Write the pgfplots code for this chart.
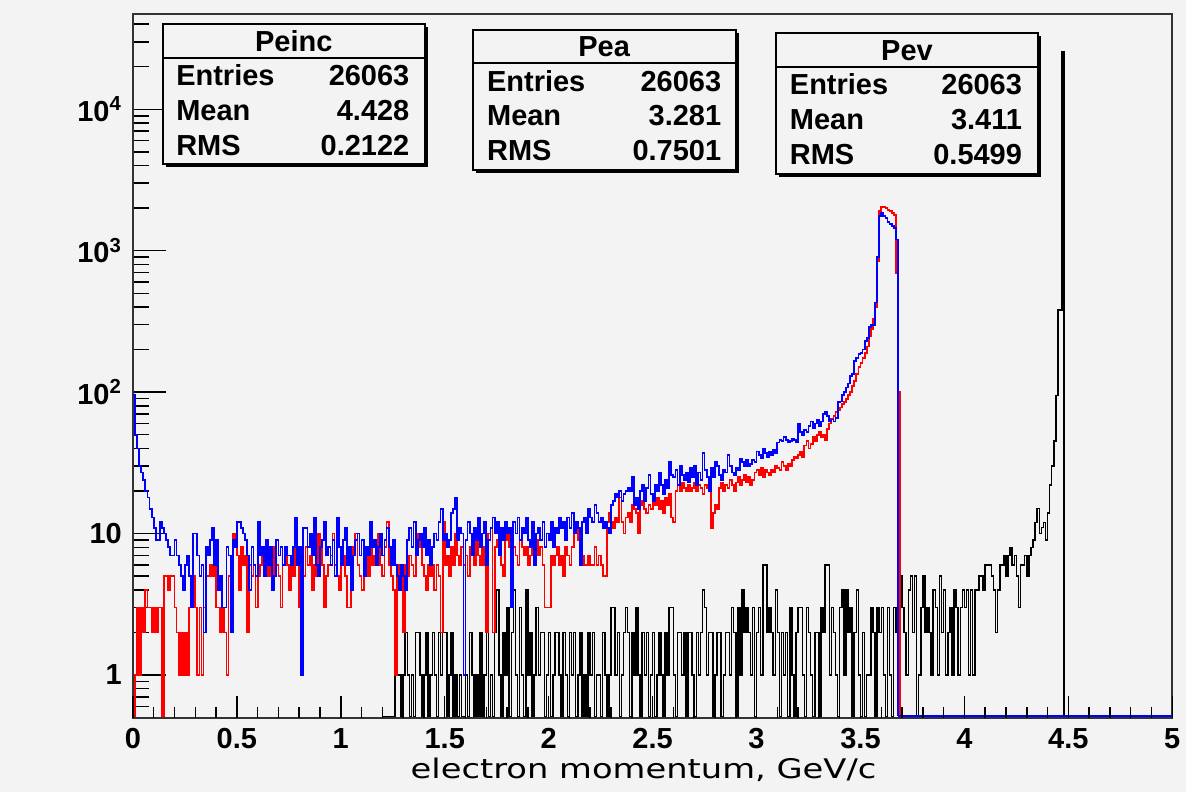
\documentclass[border=0pt]{standalone}
\usepackage{fontspec}
\setmainfont{Liberation Sans}
\newfontfamily\dejavu{DejaVu Sans}
\usepackage{graphicx}
\usepackage{pgfplots}
\pgfplotsset{compat=1.18}
\definecolor{bgc}{RGB}{243,243,243}
\definecolor{rred}{RGB}{255,0,0}
\definecolor{rblue}{RGB}{0,0,255}
\begin{document}
\begin{tikzpicture}
\begin{scope}[shift={(-66.5pt,359pt)},x=0.5pt,y=-0.5pt]
\fill[bgc] (0,0) rectangle (1187,792);
\useasboundingbox (0,0) rectangle (1187,792);
\end{scope}
\begin{axis}[
 scale only axis, width=520pt, height=352pt,
 xmin=0, xmax=5, ymode=log, ymin=0.5, ymax=47200,
 axis line style={black!80, line width=1pt},
 tick align=inside, xtick=\empty, ytick pos=left,
 ytick={1,10,100,1000,10000},
 yticklabels={1,10,10\textsuperscript{2},10\textsuperscript{3},10\textsuperscript{4}},
 minor ytick={0.6,0.7,0.8,0.9,2,3,4,5,6,7,8,9,20,30,40,50,60,70,80,90,200,300,400,500,600,700,800,900,2000,3000,4000,5000,6000,7000,8000,9000,20000,30000,40000},
 major tick length=16.5pt, minor tick length=8pt,
 ytick style={black, line width=0.75pt},
 tick label style={font=\fontsize{14.5}{17}\selectfont\bfseries},
 yticklabel style={xshift=-2pt},
 every axis plot/.append style={const plot mark left, no marks, line width=0.9pt},
]
% Peinc (black)
\addplot[black, line width=0.75pt] table[row sep=\\, header=false, x expr=1.2+\coordindex*0.01, y expr={max(\thisrowno{0},0.51)}] {
0\\0\\0\\0\\0\\0\\2\\1\\1\\0\\
1\\2\\1\\0\\1\\0\\2\\2\\1\\0\\
1\\2\\0\\1\\2\\1\\0\\2\\1\\2\\
2\\0\\1\\2\\0\\1\\0\\1\\0\\0\\
1\\0\\2\\1\\0\\1\\0\\2\\0\\1\\
2\\0\\1\\0\\2\\4\\1\\0\\2\\1\\
3\\0\\2\\4\\1\\0\\3\\1\\0\\4\\
1\\2\\0\\1\\3\\1\\2\\2\\0\\1\\
2\\0\\1\\2\\2\\1\\0\\2\\1\\0\\
2\\1\\2\\0\\1\\2\\0\\1\\0\\2\\
1\\2\\0\\1\\1\\0\\2\\1\\0\\1\\
3\\3\\1\\2\\0\\1\\2\\3\\2\\0\\
2\\1\\3\\1\\0\\2\\1\\2\\0\\1\\
2\\0\\1\\2\\1\\0\\2\\1\\3\\3\\
1\\0\\2\\2\\1\\2\\0\\2\\2\\1\\
0\\2\\1\\2\\4\\3\\1\\2\\2\\0\\
1\\2\\2\\0\\1\\2\\2\\1\\3\\2\\
0\\3\\1\\4\\2\\3\\2\\1\\3\\0\\
2\\3\\1\\6\\6\\2\\3\\2\\1\\4\\
2\\0\\2\\1\\2\\0\\3\\1\\0\\2\\
3\\3\\1\\0\\3\\2\\1\\0\\2\\2\\
0\\3\\2\\6\\6\\1\\3\\2\\1\\0\\
3\\4\\1\\4\\2\\3\\0\\2\\4\\1\\
0\\2\\0\\1\\1\\3\\2\\0\\3\\2\\
3\\1\\0\\3\\1\\0\\3\\2\\6\\5\\
3\\2\\1\\4\\5\\2\\5\\0\\1\\3\\
5\\2\\3\\2\\1\\4\\3\\1\\5\\2\\
4\\1\\2\\3\\1\\4\\3\\1\\3\\4\\
3\\4\\1\\4\\1\\4\\4\\5\\5\\4\\
6\\6\\6\\5\\4\\2\\4\\6\\6\\7\\
5\\7\\8\\6\\7\\5\\3\\6\\6\\7\\
5\\7\\8\\9\\12\\15\\10\\11\\12\\9\\
14\\22\\30\\45\\95\\380\\380\\25500\\0\\
};
% Pea (red)
\addplot[rred] table[row sep=\\, header=false, x expr=\coordindex*0.01, y expr={max(\thisrowno{0},0.51)}] {
0\\1\\3\\1\\3\\2\\4\\3\\3\\2\\
3\\2\\3\\3\\0\\5\\5\\4\\5\\5\\
3\\2\\1\\2\\1\\2\\1\\3\\3\\5\\
3\\1\\3\\1\\3\\5\\5\\6\\5\\6\\
3\\3\\2\\3\\2\\1\\5\\5\\10\\8\\
7\\4\\8\\6\\7\\2\\6\\5\\6\\3\\
5\\6\\7\\8\\6\\5\\6\\5\\8\\6\\
5\\3\\6\\8\\6\\4\\7\\5\\10\\6\\
3\\6\\5\\8\\6\\7\\4\\6\\5\\10\\
8\\6\\3\\5\\6\\7\\10\\6\\5\\4\\
6\\7\\5\\3\\3\\6\\8\\10\\6\\5\\
4\\6\\7\\5\\8\\6\\7\\8\\10\\6\\
5\\8\\12\\6\\5\\4\\1\\5\\6\\5\\
2\\6\\5\\7\\6\\5\\10\\8\\10\\6\\
5\\4\\6\\5\\6\\4\\6\\5\\2\\12\\
6\\7\\5\\8\\6\\10\\7\\6\\8\\6\\
7\\5\\8\\9\\6\\10\\7\\6\\8\\6\\
2\\10\\11\\2\\8\\9\\8\\6\\5\\9\\
10\\8\\5\\8\\7\\6\\9\\8\\7\\8\\
6\\7\\8\\6\\9\\7\\8\\6\\3\\3\\
3\\7\\6\\7\\8\\6\\7\\5\\8\\7\\
6\\8\\10\\11\\9\\8\\7\\6\\6\\7\\
6\\6\\8\\6\\7\\6\\5\\5\\12\\14\\
12\\11\\13\\12\\18\\12\\10\\13\\14\\12\\
16\\15\\14\\10\\16\\17\\15\\14\\16\\15\\
17\\16\\18\\15\\17\\14\\18\\16\\19\\13\\
12\\20\\22\\20\\23\\21\\20\\22\\20\\21\\
23\\20\\22\\21\\19\\22\\21\\20\\11\\14\\
16\\15\\21\\23\\20\\22\\21\\24\\22\\20\\
23\\25\\22\\24\\26\\23\\25\\22\\24\\27\\
28\\26\\29\\25\\28\\27\\26\\28\\27\\30\\
29\\28\\32\\30\\28\\31\\30\\33\\35\\34\\
36\\38\\35\\42\\45\\40\\43\\48\\45\\50\\
52\\48\\50\\46\\55\\60\\65\\68\\72\\75\\
78\\82\\85\\90\\95\\100\\110\\120\\135\\150\\
160\\175\\190\\210\\250\\280\\330\\400\\850\\1900\\
2050\\2050\\2000\\1950\\1900\\1850\\1800\\700\\100\\0\\
};
% Pev (blue)
\addplot[rblue] table[row sep=\\, header=false, x expr=\coordindex*0.01, y expr={max(\thisrowno{0},0.51)}] {
95\\50\\40\\30\\27\\24\\20\\18\\15\\13\\
11\\9\\9\\12\\11\\10\\9\\8\\7\\7\\
9\\7\\6\\5\\4\\6\\7\\5\\3\\10\\
10\\7\\5\\6\\2\\8\\7\\9\\11\\6\\
9\\4\\5\\3\\3\\8\\7\\2\\9\\8\\
12\\12\\11\\10\\9\\7\\4\\8\\6\\5\\
12\\7\\8\\5\\9\\6\\8\\4\\5\\9\\
7\\8\\6\\8\\7\\7\\6\\8\\13\\6\\
8\\1\\11\\11\\8\\10\\7\\13\\6\\5\\
8\\9\\12\\7\\8\\6\\9\\5\\13\\8\\
6\\9\\11\\6\\8\\4\\7\\9\\10\\7\\
9\\5\\8\\7\\12\\8\\9\\6\\8\\10\\
7\\9\\11\\8\\6\\9\\6\\5\\4\\6\\
5\\4\\9\\11\\8\\12\\7\\9\\10\\8\\
11\\7\\9\\6\\8\\10\\9\\12\\15\\9\\
10\\8\\9\\14\\15\\18\\9\\11\\10\\1\\
9\\12\\10\\7\\11\\9\\13\\8\\10\\12\\
6\\9\\11\\13\\10\\12\\7\\11\\9\\12\\
10\\11\\3\\12\\10\\13\\9\\11\\10\\13\\
9\\8\\12\\6\\10\\11\\9\\12\\8\\10\\
9\\12\\8\\11\\10\\13\\11\\12\\9\\13\\
11\\14\\10\\12\\11\\6\\12\\13\\10\\15\\
13\\12\\16\\14\\12\\13\\11\\12\\11\\10\\
16\\17\\19\\18\\20\\17\\19\\20\\21\\20\\
25\\16\\18\\15\\20\\22\\17\\21\\26\\19\\
17\\22\\20\\27\\22\\19\\24\\21\\32\\26\\
25\\28\\22\\30\\26\\24\\27\\23\\29\\25\\
30\\22\\27\\24\\37\\28\\25\\20\\29\\25\\
32\\30\\26\\24\\28\\27\\36\\30\\27\\26\\
29\\28\\34\\32\\30\\33\\30\\31\\33\\32\\
38\\36\\34\\40\\37\\35\\38\\36\\39\\37\\
44\\46\\45\\48\\46\\44\\45\\47\\46\\44\\
60\\52\\50\\54\\52\\58\\62\\56\\60\\64\\
58\\62\\70\\72\\68\\62\\64\\62\\66\\85\\
86\\95\\100\\108\\115\\130\\135\\165\\175\\185\\
190\\200\\230\\240\\290\\300\\300\\430\\900\\1750\\
1850\\1750\\1700\\1600\\1550\\1500\\1450\\1200\\0\\
};
\addplot[rblue] coordinates {(3.68,0.51) (5,0.51)};
\end{axis}
% second axis: x ticks only (different tick lengths)
\begin{axis}[
 scale only axis, width=520pt, height=352pt,
 xmin=0, xmax=5, ymin=0, ymax=1,
 axis line style={draw=none},
 tick align=inside, xtick pos=bottom, ytick=\empty,
 xtick={0,0.5,1,1.5,2,2.5,3,3.5,4,4.5,5},
 xticklabels={0,0.5,1,1.5,2,2.5,3,3.5,4,4.5,5},
 minor x tick num=4,
 major tick length=11pt, minor tick length=5.5pt,
 xtick style={black, line width=0.75pt},
 tick label style={font=\fontsize{14.5}{17}\selectfont\bfseries},
 xticklabel style={yshift=-2pt},
]
\end{axis}
\begin{scope}[shift={(-66.5pt,359pt)},x=0.5pt,y=-0.5pt, font=\fontsize{14.5}{17}\selectfont\bfseries]
% Peinc box
\fill[black] (166,27) rectangle (428,167);
\filldraw[fill=bgc, draw=black, line width=1pt] (163,24) rectangle (425,164);
\draw[line width=1pt] (163,58) -- (425,58);
\node[anchor=base, inner sep=0] at (294,52) {Peinc};
\node[anchor=base west, inner sep=0] at (176,86) {Entries};
\node[anchor=base west, inner sep=0] at (176,121) {Mean};
\node[anchor=base west, inner sep=0] at (176,156) {RMS};
\node[anchor=base east, inner sep=0] at (410,86) {26063};
\node[anchor=base east, inner sep=0] at (410,121) {4.428};
\node[anchor=base east, inner sep=0] at (410,156) {0.2122};
% Pea box
\fill[black] (476,33) rectangle (739,173);
\filldraw[fill=bgc, draw=black, line width=1pt] (473,30) rectangle (736,170);
\draw[line width=1pt] (473,63) -- (736,63);
\node[anchor=base, inner sep=0] at (604.5,57) {Pea};
\node[anchor=base west, inner sep=0] at (487,92) {Entries};
\node[anchor=base west, inner sep=0] at (487,126) {Mean};
\node[anchor=base west, inner sep=0] at (487,161) {RMS};
\node[anchor=base east, inner sep=0] at (722,92) {26063};
\node[anchor=base east, inner sep=0] at (722,126) {3.281};
\node[anchor=base east, inner sep=0] at (722,161) {0.7501};
% Pev box
\fill[black] (779,36) rectangle (1042,177);
\filldraw[fill=bgc, draw=black, line width=1pt] (776,33) rectangle (1039,174);
\draw[line width=1pt] (776,67) -- (1039,67);
\node[anchor=base, inner sep=0] at (907.5,61) {Pev};
\node[anchor=base west, inner sep=0] at (790,95) {Entries};
\node[anchor=base west, inner sep=0] at (790,130) {Mean};
\node[anchor=base west, inner sep=0] at (790,165) {RMS};
\node[anchor=base east, inner sep=0] at (1023,95) {26063};
\node[anchor=base east, inner sep=0] at (1023,130) {3.411};
\node[anchor=base east, inner sep=0] at (1023,165) {0.5499};
\end{scope}
\begin{scope}[shift={(-66.5pt,359pt)},x=0.5pt,y=-0.5pt]
\node[anchor=base, inner sep=0] at (644,779) {\scalebox{1.25}[1]{\dejavu\mdseries\fontsize{13.5}{16}\selectfont electron momentum, GeV/c}};
\end{scope}
\end{tikzpicture}
\end{document}
